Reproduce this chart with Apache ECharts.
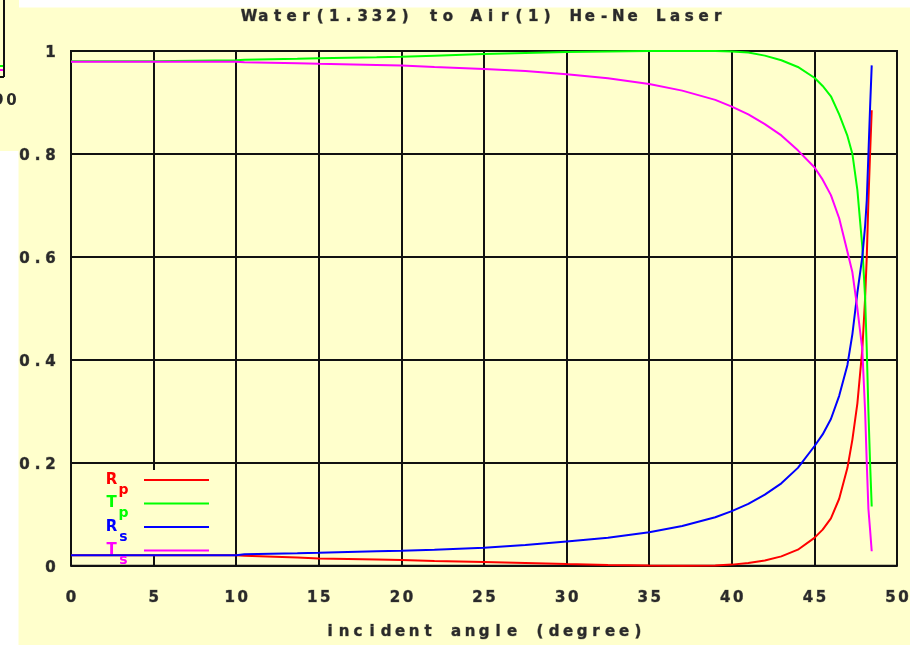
<!DOCTYPE html>
<html>
<head>
<meta charset="utf-8">
<script src="https://cdn.jsdelivr.net/npm/echarts@6/dist/echarts.min.js"></script>
<style>html,body{margin:0;padding:0;background:#fff;}#c{width:918px;height:645px;}</style>
</head>
<body>
<div id="c"></div>
<script>
// ---- data ----
const titleText = 'Water(1.332) to Air(1) He-Ne Laser';
const xName = 'incident angle (degree)';
const seriesNames = ['Rp', 'Tp', 'Rs', 'Ts'];
const xTicks = [0, 5, 10, 15, 20, 25, 30, 35, 40, 45, 50];
const yTicks = [0, 0.2, 0.4, 0.6, 0.8, 1];
const angles = [0, 5, 10, 10.5, 13.7, 15, 18.5, 20, 22, 25, 27.5, 30, 32.5, 35, 37, 39, 40, 41, 42, 43, 44, 45, 45.5, 46, 46.5, 47, 47.3, 47.6, 47.9, 48.07, 48.17, 48.27, 48.37, 48.47];
const rp = [0.020, 0.020, 0.020, 0.019, 0.016, 0.014, 0.012, 0.011, 0.009, 0.007, 0.005, 0.003, 0.0015, 0.0004, 0.0, 0.0004, 0.002, 0.005, 0.010, 0.018, 0.031, 0.054, 0.070, 0.092, 0.130, 0.190, 0.245, 0.315, 0.420, 0.520, 0.600, 0.710, 0.800, 0.885];
const tp = [0.980, 0.980, 0.982, 0.983, 0.985, 0.986, 0.988, 0.989, 0.991, 0.994, 0.996, 0.998, 0.999, 1.0, 1.0, 1.0, 0.999, 0.997, 0.991, 0.982, 0.969, 0.948, 0.932, 0.912, 0.877, 0.835, 0.800, 0.730, 0.620, 0.520, 0.420, 0.300, 0.200, 0.115];
const rs = [0.020, 0.020, 0.020, 0.022, 0.024, 0.025, 0.028, 0.029, 0.031, 0.035, 0.040, 0.047, 0.054, 0.065, 0.077, 0.094, 0.106, 0.120, 0.138, 0.160, 0.190, 0.232, 0.255, 0.285, 0.330, 0.390, 0.450, 0.530, 0.600, 0.660, 0.710, 0.800, 0.890, 0.972];
const ts = [0.979, 0.979, 0.979, 0.978, 0.976, 0.975, 0.973, 0.972, 0.969, 0.965, 0.961, 0.955, 0.947, 0.936, 0.923, 0.905, 0.892, 0.877, 0.858, 0.836, 0.807, 0.774, 0.750, 0.720, 0.675, 0.610, 0.570, 0.500, 0.420, 0.300, 0.200, 0.110, 0.070, 0.028];
const colors = ['#ff0000', '#00ff00', '#0000ff', '#ff00ff'];
const values = [rp, tp, rs, ts];

const FONT = 'DejaVu Sans';
const TXT = '#2a2a2a';
function spaced(str, key) {
  return str.split('').map(c => '{' + key + '|' + c + '}').join('');
}
const charStyle = (w, pad) => ({
  width: w, align: 'center', fontFamily: FONT, fontWeight: 'bold', fontSize: 15,
  color: TXT, lineHeight: 15, textBorderColor: 'rgba(40,40,40,0.55)', textBorderWidth: 0.7,
  padding: pad || 0
});

const legendRich = { g: { width: 10, fontSize: 14, lineHeight: 14 } };
seriesNames.forEach((n, i) => {
  legendRich['m' + i] = { width: 13, align: 'center', fontFamily: FONT, fontWeight: 'bold', fontSize: 15, color: colors[i], lineHeight: 14 };
  legendRich['s' + i] = { width: 11, align: 'center', fontFamily: FONT, fontWeight: 'bold', fontSize: 14, color: colors[i], lineHeight: 14, padding: [20, 0, 0, 0] };
});

const chart = echarts.init(document.getElementById('c'), null, { renderer: 'canvas' });
chart.setOption({
  animation: false,
  backgroundColor: '#ffffcc',
  title: {
    text: spaced(titleText, 't'),
    left: 242, top: 10, padding: 0,
    textStyle: { rich: { t: charStyle(14.2) } }
  },
  grid: { left: 71, top: 51, right: 21, bottom: 74, show: true, borderColor: '#111', borderWidth: 2, backgroundColor: 'transparent' },
  legend: {
    orient: 'vertical', left: 105, top: 463, align: 'right', padding: 0,
    itemWidth: 65, itemHeight: 14, itemGap: -10.5,
    selectedMode: false,
    itemStyle: { color: 'transparent', borderWidth: 0, opacity: 0 },
    data: seriesNames,
    formatter: function (name) {
      const i = seriesNames.indexOf(name);
      return '{m' + i + '|' + name[0] + '}{s' + i + '|' + name[1] + '}{g| }';
    },
    textStyle: { rich: legendRich }
  },
  xAxis: {
    type: 'value', min: xTicks[0], max: xTicks[xTicks.length - 1], interval: 5,
    name: spaced(xName, 'n'), nameLocation: 'middle', nameGap: 59,
    nameTextStyle: { rich: { n: charStyle(14) } },
    axisLine: { show: false }, axisTick: { show: false },
    splitLine: { show: true, lineStyle: { color: '#111', width: 2 } },
    axisLabel: { margin: 25, formatter: v => spaced(String(v), 'd'), rich: { d: charStyle(13) } }
  },
  yAxis: {
    type: 'value', min: yTicks[0], max: yTicks[yTicks.length - 1], interval: 0.2,
    axisLine: { show: false }, axisTick: { show: false },
    splitLine: { show: true, lineStyle: { color: '#111', width: 2 } },
    axisLabel: { margin: 14, formatter: v => spaced(String(+v.toFixed(1)), 'd'), rich: { d: charStyle(13, [4, 0, 0, 0]) } }
  },
  series: seriesNames.map((n, i) => ({
    name: n, type: 'line', symbol: 'none', showSymbol: false, clip: false,
    color: colors[i],
    lineStyle: { color: colors[i], width: 2 },
    data: angles.map((a, j) => [a, values[i][j]])
  })),
  graphic: [
    { type: 'rect', z: 1, shape: { x: 98, y: 470, width: 114, height: 86 }, style: { fill: '#ffffcc' } },
    { type: 'rect', z: 100, shape: { x: 19, y: 0, width: 899, height: 7.5 }, style: { fill: '#ffffff' } },
    { type: 'rect', z: 100, shape: { x: 910, y: 0, width: 8, height: 645 }, style: { fill: '#ffffff' } },
    { type: 'rect', z: 100, shape: { x: 0, y: 151, width: 18.5, height: 494 }, style: { fill: '#ffffff' } },
    { type: 'line', z: 100, shape: { x1: 4, y1: 0, x2: 4, y2: 77 }, style: { stroke: '#111', lineWidth: 2 } },
    { type: 'line', z: 100, shape: { x1: 0, y1: 77, x2: 4, y2: 77 }, style: { stroke: '#111', lineWidth: 2 } },
    { type: 'line', z: 100, shape: { x1: 0, y1: 66, x2: 3, y2: 66 }, style: { stroke: '#00ff00', lineWidth: 2 } },
    { type: 'line', z: 100, shape: { x1: 0, y1: 70, x2: 3, y2: 70 }, style: { stroke: '#ff00ff', lineWidth: 2 } },
    { type: 'text', z: 100, x: 18, y: 101, style: { text: '{d|9}{d|0}', align: 'right', verticalAlign: 'middle', rich: { d: { width: 13, align: 'center', fontFamily: FONT, fontWeight: 'bold', fontSize: 15, fill: TXT } } } }
  ]
});
</script>
</body>
</html>
